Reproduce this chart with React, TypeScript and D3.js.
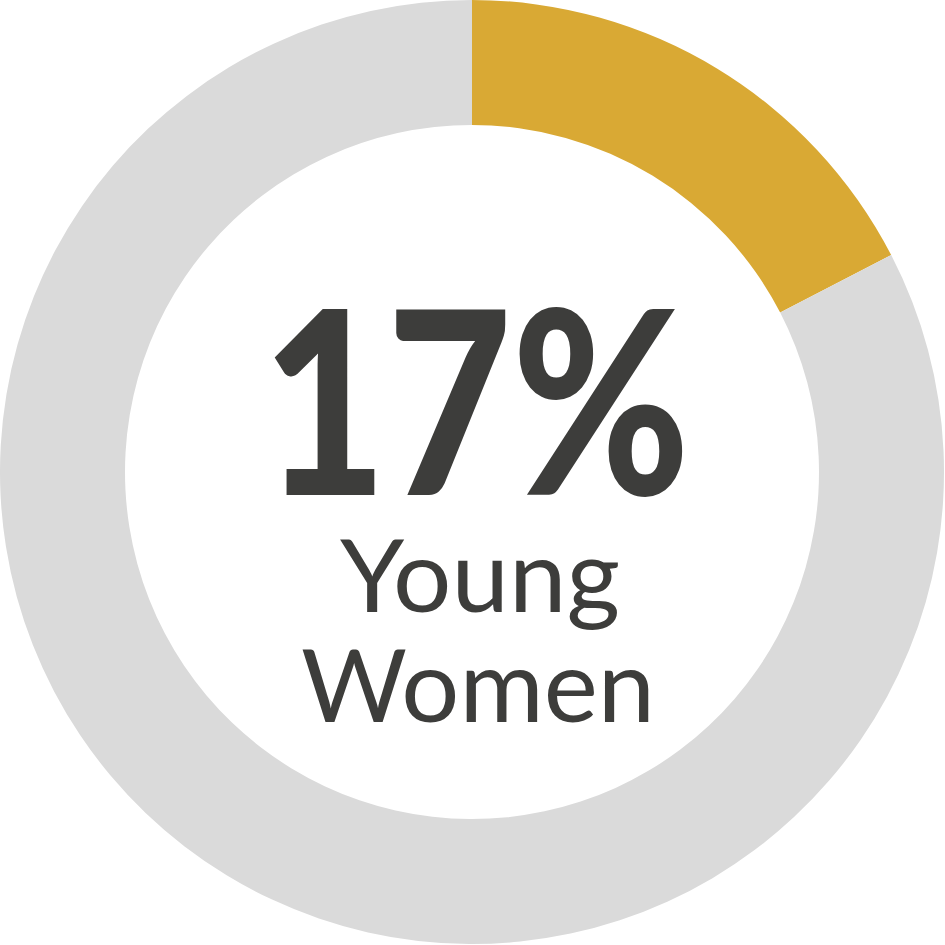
import React from "react";
import * as d3 from "d3";

const categories = ["Young Women", "Other"];
const values = [17.4, 82.6];
const colors = ["#D9A934", "#DADADA"];
const bigLabel = "17%";
const subLabel = ["Young", "Women"];

export default function App() {
  const W = 945, H = 945;
  const cx = 472, cy = 472;
  const outerR = 472, innerR = 347;
  const pie = d3.pie<number>().sort(null).value((d) => d);
  const arcs = pie(values);
  const arc = d3.arc<d3.PieArcDatum<number>>().innerRadius(innerR).outerRadius(outerR);
  return (
    <svg width={W} height={H} style={{ position: "absolute", left: 0, top: 0, background: "#fff" }}>
      <g transform={`translate(${cx},${cy})`}>
        {arcs.map((a, i) => (
          <path key={categories[i]} d={arc(a) || ""} fill={colors[i]} />
        ))}
        <text x={4} y={23} textAnchor="middle" fontFamily="Lato" fontWeight={900} fontSize={256} fill="#3D3D3B" textLength={428} lengthAdjust="spacingAndGlyphs">
          {bigLabel}
        </text>
        <text x={8} y={140} textAnchor="middle" fontFamily="Lato" fontWeight={400} fontSize={101} fill="#3D3D3B" textLength={280} lengthAdjust="spacingAndGlyphs">
          {subLabel[0]}
        </text>
        <text x={6} y={250} textAnchor="middle" fontFamily="Lato" fontWeight={400} fontSize={101} fill="#3D3D3B" textLength={354} lengthAdjust="spacingAndGlyphs">
          {subLabel[1]}
        </text>
      </g>
    </svg>
  );
}
